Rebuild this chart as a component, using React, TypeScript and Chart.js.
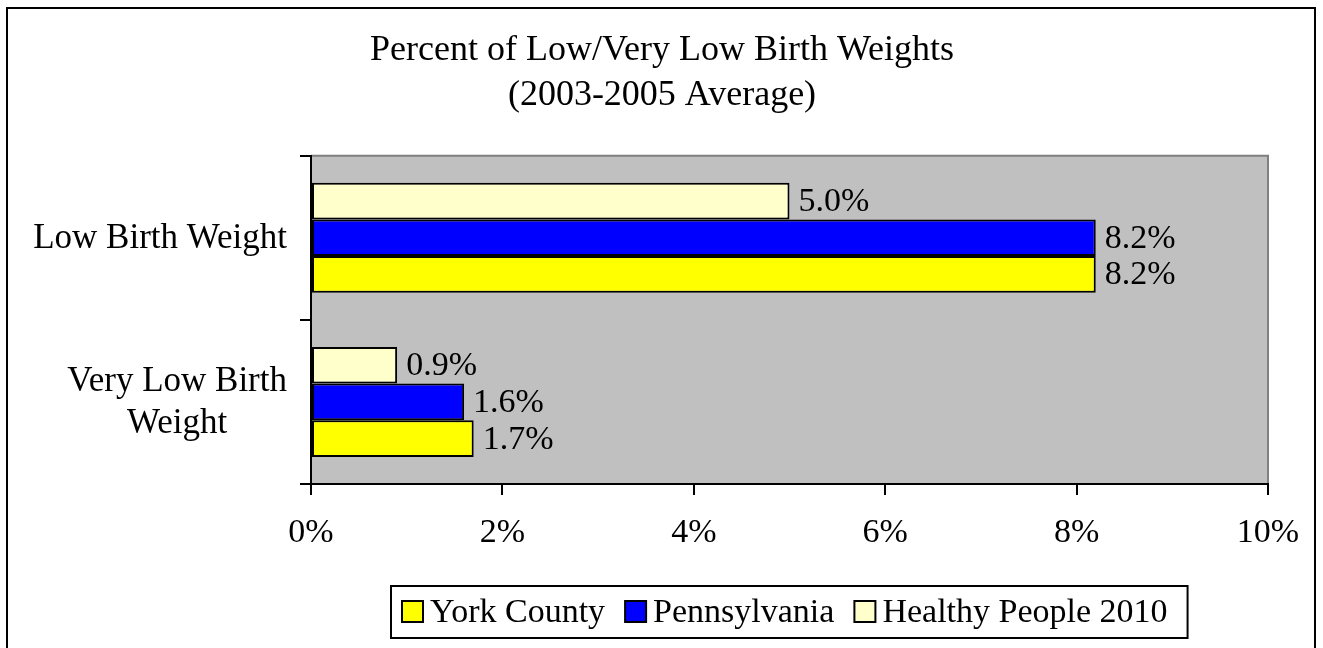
import React, { useEffect, useRef } from "react";
import { Chart, registerables } from "chart.js";

Chart.register(...registerables);

const titleLines = ["Percent of Low/Very Low Birth Weights", "(2003-2005 Average)"];
const categoryLines: string[][] = [["Low Birth Weight"], ["Very Low Birth", "Weight"]];
const seriesNames = ["Healthy People 2010", "Pennsylvania", "York County"];
const healthyPeople = [5.0, 0.9];
const pennsylvania = [8.2, 1.6];
const yorkCounty = [8.2, 1.7];
const seriesColors = ["#FFFFCC", "#0000FF", "#FFFF00"];
const xTicks = [0, 2, 4, 6, 8, 10];

const FONT = '"Liberation Serif", "Times New Roman", serif';

const framePlugin = {
  id: "frame",
  beforeDraw(chart: any) {
    const { ctx, width, height, chartArea } = chart;
    ctx.save();
    ctx.fillStyle = "#FFFFFF";
    ctx.fillRect(0, 0, width, height);
    ctx.strokeStyle = "#000000";
    ctx.lineWidth = 2;
    ctx.strokeRect(7, 8, 1308, height + 20);
    // plot area
    ctx.fillStyle = "#C0C0C0";
    ctx.fillRect(chartArea.left, chartArea.top, chartArea.right - chartArea.left, chartArea.bottom - chartArea.top);
    ctx.strokeStyle = "#808080";
    ctx.lineWidth = 2;
    ctx.beginPath();
    ctx.moveTo(chartArea.left, chartArea.top);
    ctx.lineTo(chartArea.right, chartArea.top);
    ctx.lineTo(chartArea.right, chartArea.bottom);
    ctx.stroke();
    ctx.restore();
  },
};

const labelsPlugin = {
  id: "customLabels",
  afterDatasetsDraw(chart: any) {
    const { ctx } = chart;
    ctx.save();
    ctx.font = `34px ${FONT}`;
    ctx.fillStyle = "#000";
    ctx.textAlign = "left";
    ctx.textBaseline = "middle";
    chart.data.datasets.forEach((ds: any, di: number) => {
      const meta = chart.getDatasetMeta(di);
      meta.data.forEach((el: any, i: number) => {
        const v = ds.data[i] as number;
        ctx.fillText(v.toFixed(1) + "%", el.x + 9, el.y + 1);
      });
    });
    ctx.restore();
  },
  afterDraw(chart: any) {
    const { ctx, chartArea } = chart;
    const yScale = chart.scales.y;
    ctx.save();
    // category labels
    ctx.font = `35px ${FONT}`;
    ctx.fillStyle = "#000";
    ctx.textAlign = "center";
    ctx.textBaseline = "middle";
    const rightEdge = chartArea.left - 24;
    categoryLines.forEach((lines, i) => {
      const yc = yScale.getPixelForValue(i);
      const widest = Math.max(...lines.map((l) => ctx.measureText(l).width));
      const cx = rightEdge - widest / 2;
      const lh = 42;
      lines.forEach((line, j) => {
        ctx.fillText(line, cx, yc + (j - (lines.length - 1) / 2) * lh + 1);
      });
    });
    // legend (reverse order)
    ctx.font = `34px ${FONT}`;
    const items = chart.data.datasets
      .map((ds: any) => ({ label: ds.label, color: ds.backgroundColor }))
      .reverse();
    const box = 21, gap = 7, itemGap = 20, padL = 11, padR = 20;
    const widths = items.map((it: any) => ctx.measureText(it.label).width);
    let total = padL + padR + itemGap * (items.length - 1);
    widths.forEach((w: number) => (total += box + gap + w));
    const cx = (chartArea.left + chartArea.right) / 2;
    const left = Math.round(cx - total / 2);
    const top = 586, h = 52;
    ctx.strokeStyle = "#000";
    ctx.lineWidth = 2;
    ctx.strokeRect(left, top, total, h);
    let x = left + padL;
    const midY = top + h / 2;
    ctx.textAlign = "left";
    items.forEach((it: any, i: number) => {
      ctx.fillStyle = it.color;
      ctx.fillRect(x, midY - 11, box, box);
      ctx.strokeStyle = "#000";
      ctx.lineWidth = 2;
      ctx.strokeRect(x, midY - 11, box, box);
      ctx.fillStyle = "#000";
      ctx.fillText(it.label, x + box + gap, midY + 1);
      x += box + gap + widths[i] + itemGap;
    });
    ctx.restore();
  },
};

export default function App() {
  const ref = useRef<HTMLCanvasElement | null>(null);

  useEffect(() => {
    if (!ref.current) return;
    const values = [healthyPeople, pennsylvania, yorkCounty];
    const chart = new Chart(ref.current, {
      type: "bar",
      data: {
        labels: categoryLines.map((l) => l.join(" ")),
        datasets: seriesNames.map((name, i) => ({
          label: name,
          data: values[i],
          backgroundColor: seriesColors[i],
          borderColor: "#000000",
          borderWidth: 2,
          borderSkipped: false,
          categoryPercentage: 0.67,
          barPercentage: 1.0,
        })),
      },
      options: {
        indexAxis: "y",
        responsive: false,
        animation: false,
        layout: { padding: { left: 56, right: 55, top: 0, bottom: 74 } },
        plugins: {
          legend: { display: false },
          tooltip: { enabled: false },
          title: {
            display: true,
            text: titleLines,
            color: "#000",
            font: { family: FONT, size: 36, weight: "normal", lineHeight: 1.26 },
            padding: { top: 28, bottom: 37 },
          },
        },
        scales: {
          x: {
            type: "linear",
            min: xTicks[0],
            max: xTicks[xTicks.length - 1],
            afterBuildTicks: (scale: any) => {
              scale.ticks = xTicks.map((v) => ({ value: v }));
            },
            afterFit: (scale: any) => {
              scale.height = 90;
            },
            ticks: {
              color: "#000",
              padding: 18,
              font: { family: FONT, size: 34 },
              callback: (v: any) => v + "%",
            },
            grid: {
              display: true,
              drawOnChartArea: false,
              drawTicks: true,
              tickLength: 11,
              color: "#000",
              lineWidth: 2,
            },
            border: { display: true, color: "#000", width: 2 },
          },
          y: {
            type: "category",
            afterFit: (scale: any) => {
              scale.width = 255;
            },
            ticks: { display: false },
            grid: {
              display: true,
              offset: true,
              drawOnChartArea: false,
              drawTicks: true,
              tickLength: 11,
              color: "#000",
              lineWidth: 2,
            },
            border: { display: true, color: "#000", width: 2 },
          },
        },
      },
      plugins: [framePlugin, labelsPlugin],
    } as any);
    return () => chart.destroy();
  }, []);

  return (
    <div style={{ position: "absolute", left: 0, top: 0, width: 1323, height: 648 }}>
      <canvas ref={ref} width={1323} height={648} style={{ display: "block" }} />
    </div>
  );
}
